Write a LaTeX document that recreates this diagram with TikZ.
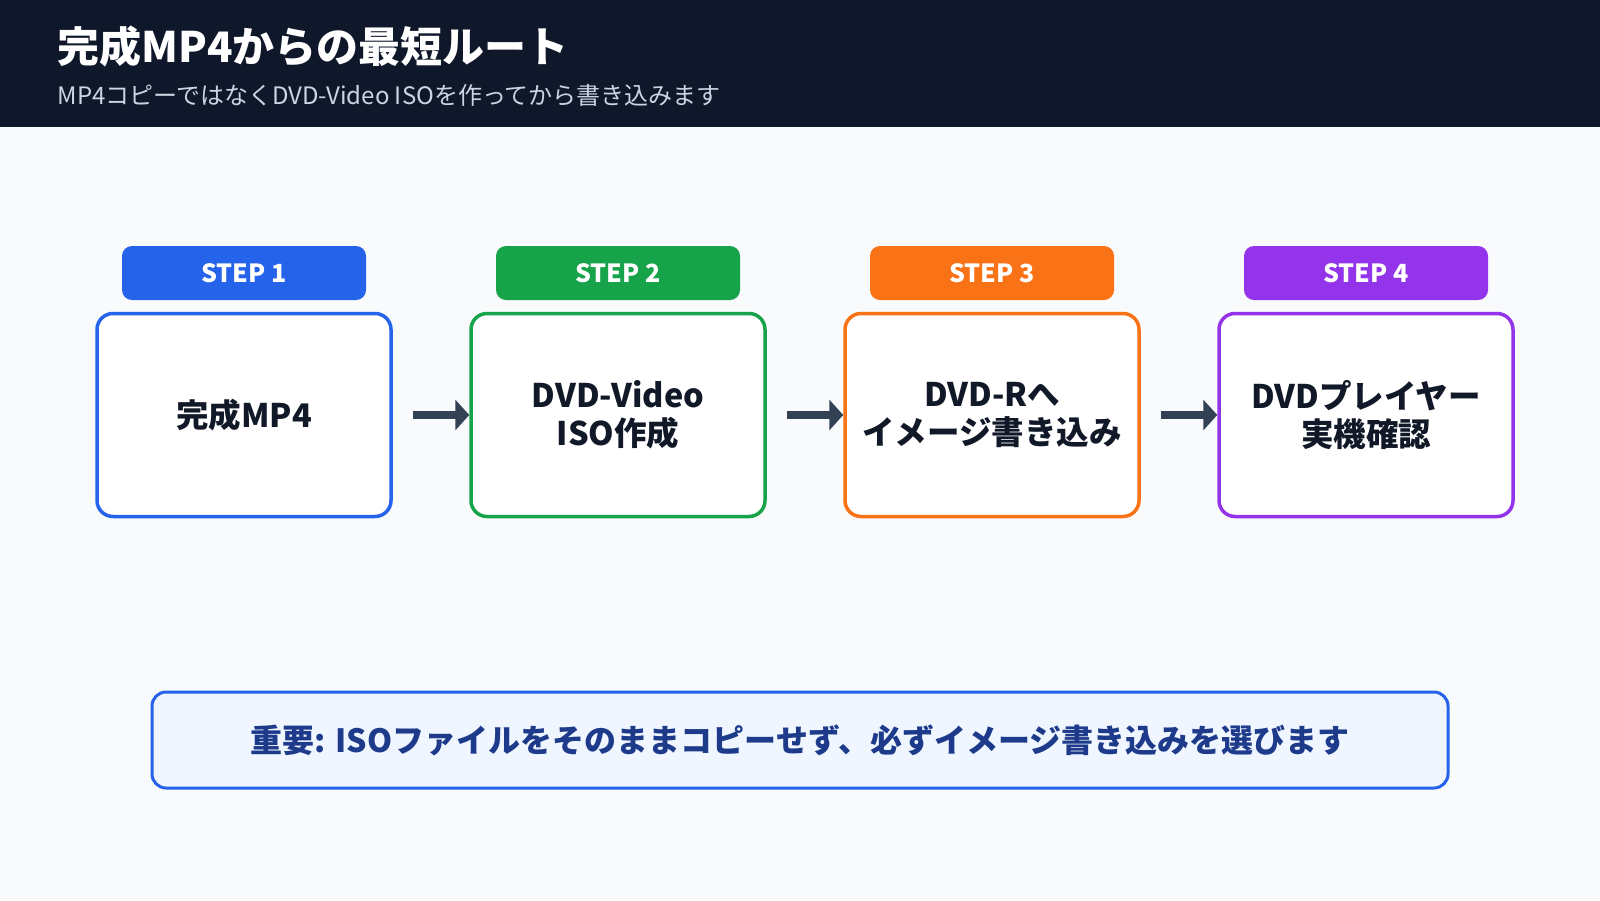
\documentclass[tikz,border=0pt]{standalone}
\usepackage{fontspec}
\setmainfont{Noto Sans CJK JP}
\usetikzlibrary{arrows.meta}
\definecolor{hdr}{HTML}{0F172A}
\definecolor{bg}{HTML}{F8FAFC}
\definecolor{sub}{HTML}{CBD5E1}
\definecolor{ink}{HTML}{111827}
\definecolor{c1}{HTML}{2563EB}
\definecolor{c2}{HTML}{16A34A}
\definecolor{c3}{HTML}{F97316}
\definecolor{c4}{HTML}{9333EA}
\definecolor{arr}{HTML}{334155}
\definecolor{note}{HTML}{EFF6FF}
\definecolor{notetxt}{HTML}{1E3A8A}
\begin{document}
\begin{tikzpicture}[x=1pt,y=-1pt,
 box/.style={draw=#1,line width=3.5pt,fill=white,rounded corners=16pt,minimum width=294pt,minimum height=203pt,align=center,font=\fontsize{32.5}{38}\selectfont\bfseries,text=ink},
 tab/.style={fill=#1,rounded corners=10pt,minimum width=244pt,minimum height=54pt,font=\fontsize{25}{30}\selectfont\bfseries,text=white},
 link/.style={draw=arr,line width=8pt,-{Triangle[length=14pt,width=30pt]}}]
\useasboundingbox (0,0) rectangle (1600,900);
\fill[bg] (0,0) rectangle (1600,900);
\fill[hdr] (0,0) rectangle (1600,127);
\node[anchor=west,text=white,font=\fontsize{42}{50}\selectfont\bfseries] (title) at (54,46) {完成MP4からの最短ルート};
\node[anchor=west,text=sub,font=\fontsize{24}{28}\selectfont] (subt) at (54,95) {MP4コピーではなくDVD-Video ISOを作ってから書き込みます};
\foreach \i/\c/\x/\t in {1/c1/244/{完成MP4},2/c2/618/{DVD-Video\\ISO作成},3/c3/992/{DVD-Rへ\\イメージ書き込み},4/c4/1366/{DVDプレイヤー\\実機確認}}{
 \node[tab=\c] (t\i) at (\x,273) {STEP \i};
 \node[box=\c] (b\i) at (\x,415) {\t};
}
\draw[link] (b1.east)++(20,0) coordinate (a1) -- (b2.west);
\draw[link] (b2.east)++(20,0) coordinate (a2) -- (b3.west);
\draw[link] (b3.east)++(20,0) coordinate (a3) -- (b4.west);
\node[draw=c1,line width=3pt,fill=note,rounded corners=14pt,minimum width=1296pt,minimum height=96pt,text=notetxt,font=\fontsize{32}{38}\selectfont\bfseries] (n) at (800,740) {重要: ISOファイルをそのままコピーせず、必ずイメージ書き込みを選びます};
\end{tikzpicture}
\end{document}
